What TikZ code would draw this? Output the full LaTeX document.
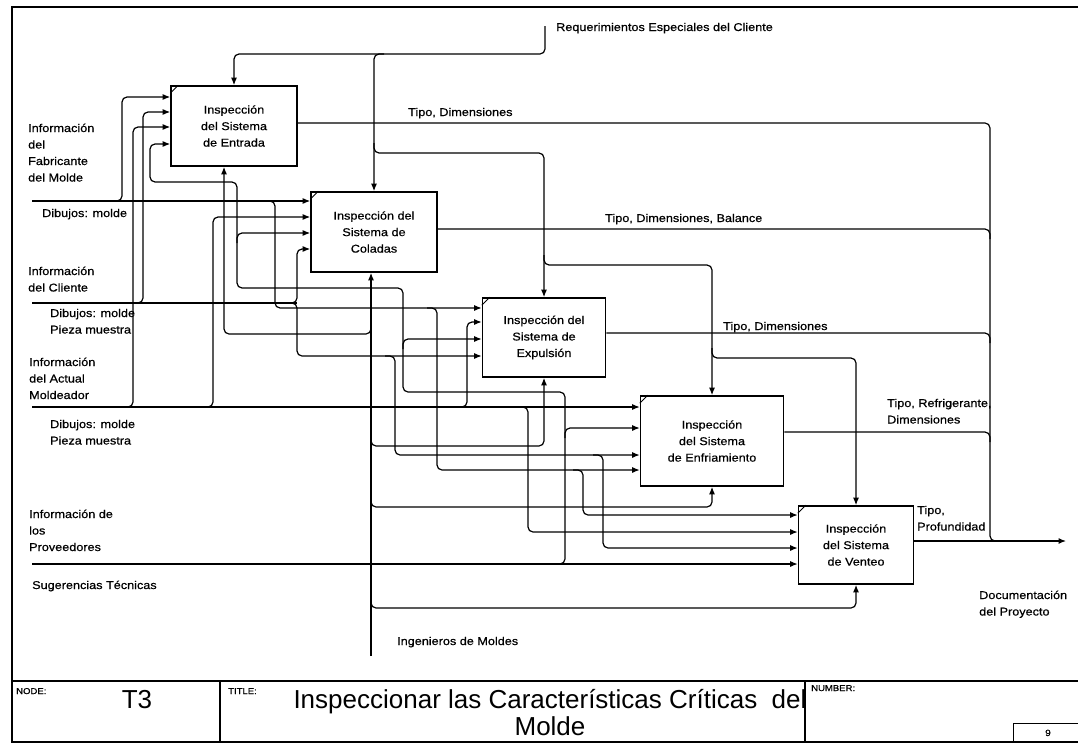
\documentclass[tikz,border=0pt]{standalone}
\usepackage{fontspec}
\setmainfont{Liberation Sans}
\newfontfamily\labfont{Liberation Sans}[FakeStretch=1.12, FakeBold=0.6]
\usetikzlibrary{arrows.meta}

\begin{document}
\begin{tikzpicture}[x=1pt,y=-1pt,
  line/.style={line width=1.2pt, rounded corners=5pt},
  arr/.style={line, -{Latex[length=7.5pt,width=6pt]}},
  fnbox/.style={draw, line width=1.6pt, inner sep=0pt, align=center,
    font=\labfont\fontsize{11.3}{16.5}\selectfont},
  lab/.style={inner sep=0pt, anchor=base west, align=left,
    font=\labfont\fontsize{11.3}{16.5}\selectfont},
  frame/.style={line width=1.3pt},
  small/.style={inner sep=0pt, anchor=base west, font=\labfont\fontsize{8.5}{10}\selectfont}]

\useasboundingbox (0,0) rectangle (1078,744);

% sheet frame and title block
\draw[frame] (1078,7) -- (12,7) -- (12,742) -- (1078,742);
\draw[frame] (12,681) -- (1078,681);
\draw[frame] (220,681) -- (220,742);
\draw[frame] (805,681) -- (805,742);
\draw[line width=0.8pt] (1013,742) -- (1013,723) -- (1078,723);

\node[small] (nodelab) at (16,694) {NODE:};
\node[inner sep=0pt, anchor=base, font=\fontsize{26}{28}\selectfont] (nodeval) at (137,708) {T3};
\node[small] (titlelab) at (228,694) {TITLE:};
% the base of a multi-line node is the baseline of its last line
\node[inner sep=0pt, anchor=base, align=center, font=\fontsize{26}{27}\selectfont] (title) at (550,735)
  {Inspeccionar las Características Críticas\ \ del\\Molde};
\node[small] (numlab) at (811,691) {NUMBER:};
\node[inner sep=0pt, anchor=base, font=\labfont\fontsize{9}{10}\selectfont] (numval) at (1048,736) {9};

% activity boxes
\node[fnbox, minimum width=126pt, minimum height=80pt] (b1) at (234,126)
  {Inspección\\del Sistema\\de Entrada};
\node[fnbox, minimum width=126pt, minimum height=80pt] (b2) at (374,232)
  {Inspección del\\Sistema de\\Coladas};
\node[fnbox, minimum width=123pt, minimum height=79pt] (b3) at (544,337.5)
  {Inspección del\\Sistema de\\Expulsión};
\node[fnbox, minimum width=143pt, minimum height=90pt] (b4) at (712,441)
  {Inspección\\del Sistema\\de Enfriamiento};
\node[fnbox, minimum width=115pt, minimum height=78pt] (b5) at (856,545)
  {Inspección\\del Sistema\\de Venteo};

% corner marks of the boxes
\foreach \b in {b1,b2,b3,b4,b5}
  \draw[line width=0.9pt] (\b.north west) ++(0,8) -- ++(8,-8);

% free ends of the boundary arrows
\coordinate (F0) at (32,201);
\coordinate (C0) at (32,303);
\coordinate (M0) at (32,407);
\coordinate (S0) at (32,564);
\coordinate (R0) at (545,26);
\coordinate (G0) at (371,656);
\coordinate (O0) at (1066,541);

% Fabricante del molde
\draw[arr] (F0) -- (b2.west |- F0);
\draw[arr] (112,201) -- (122,201) -- (122,97) -- (b1.west |- 0,97);
\draw[arr] (265,201) -- (275,201) -- (275,308) -- (b3.west |- 0,308);
\draw[arr] (427,308) -- (437,308) -- (437,470) -- (b4.west |- 0,470);
\draw[arr] (573,470) -- (583,470) -- (583,515) -- (b5.west |- 0,515);

% Cliente
\draw[line] (C0) -- (297,303);
\draw[arr] (287,303) -- (297,303) -- (297,249) -- (b2.west |- 0,249);
\draw[arr] (287,303) -- (297,303) -- (297,356) -- (b3.west |- 0,356);
\draw[arr] (133,303) -- (143,303) -- (143,112) -- (b1.west |- 0,112);
\draw[arr] (385,356) -- (395,356) -- (395,455) -- (b4.west |- 0,455);
\draw[arr] (593,455) -- (603,455) -- (603,548) -- (b5.west |- 0,548);

% Actual moldeador
\draw[arr] (M0) -- (b4.west |- M0);
\draw[arr] (123,407) -- (133,407) -- (133,127) -- (b1.west |- 0,127);
\draw[arr] (203,407) -- (213,407) -- (213,217) -- (b2.west |- 0,217);
\draw[arr] (457,407) -- (467,407) -- (467,322) -- (b3.west |- 0,322);
\draw[arr] (518,407) -- (528,407) -- (528,532) -- (b5.west |- 0,532);

% Proveedores
\draw[arr] (S0) -- (b5.west |- S0);
\draw[arr] (555,564) -- (565,564) -- (565,392) -- (403,392) -- (403,288) -- (237,288)
  -- (237,182) -- (150,182) -- (150,144) -- (b1.west |- 0,144);
\draw[arr] (565,438) -- (565,428) -- (b4.west |- 0,428);
\draw[arr] (403,349) -- (403,339) -- (b3.west |- 0,339);
\draw[arr] (237,243) -- (237,233) -- (b2.west |- 0,233);

% control
\draw[arr] (R0) -- (545,54) -- (234,54) -- (b1.north);
\draw[arr] (384,54) -- (374,54) -- (b2.north);
\draw[arr] (374,143) -- (374,153) -- (544,153) -- (b3.north);
\draw[arr] (544,255) -- (544,265) -- (712,265) -- (b4.north);
\draw[arr] (712,348) -- (712,358) -- (856,358) -- (b5.north);

% mechanism
\draw[arr] (G0) -- (G0 |- b2.south);
\draw[arr] (371,324) -- (371,334) -- (224,334) -- (b1.south -| 224,0);
\draw[arr] (371,436) -- (371,446) -- (544,446) -- (b3.south);
\draw[arr] (371,497) -- (371,507) -- (712,507) -- (b4.south);
\draw[arr] (371,598) -- (371,608) -- (856,608) -- (b5.south);

% outputs
\draw[line] (b1.east |- 0,123) -- (990,123) -- (990,541) -- (1000,541);
\draw[line] (b2.east |- 0,229) -- (990,229) -- (990,239);
\draw[line] (b3.east |- 0,333) -- (990,333) -- (990,343);
\draw[line] (b4.east |- 0,432) -- (990,432) -- (990,442);
\draw[arr] (b5.east |- 0,541) -- (O0);

% arrow labels (positions give the baseline of the last line)
\node[lab] (lreq) at (556,31) {Requerimientos Especiales del Cliente};
\node[lab] (lo1) at (408,116) {Tipo, Dimensiones};
\node[lab] (lo2) at (605,222) {Tipo, Dimensiones, Balance};
\node[lab] (lo3) at (723,330) {Tipo, Dimensiones};
\node[lab] (lo4) at (887,423.5) {Tipo, Refrigerante,\\Dimensiones};
\node[lab] (lo5) at (917,530.5) {Tipo,\\Profundidad};
\node[lab] (lout) at (979,615.5) {Documentación\\del Proyecto};
\node[lab] (lmec) at (397,645) {Ingenieros de Moldes};

\node[lab] (lfab) at (28,181.5) {Información\\del\\Fabricante\\del Molde};
\node[lab] (lfab2) at (42,217) {Dibujos: molde};
\node[lab] (lcli) at (28,291.5) {Información\\del Cliente};
\node[lab] (lcli2) at (50,333.5) {Dibujos: molde\\Pieza muestra};
\node[lab] (lmol) at (29,399) {Información\\del Actual\\Moldeador};
\node[lab] (lmol2) at (50,444.5) {Dibujos: molde\\Pieza muestra};
\node[lab] (lpro) at (29,551) {Información de\\los\\Proveedores};
\node[lab] (lpro2) at (32,589) {Sugerencias Técnicas};

\end{tikzpicture}
\end{document}
